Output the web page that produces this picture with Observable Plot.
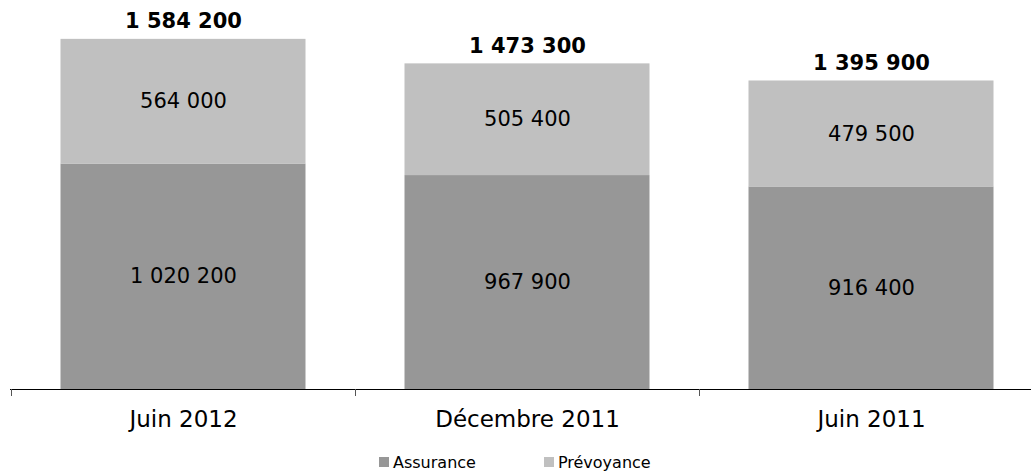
<!DOCTYPE html>
<html>
<head>
<meta charset="utf-8">
<script src="https://cdn.jsdelivr.net/npm/d3@7"></script>
<script src="https://cdn.jsdelivr.net/npm/@observablehq/plot@0.6"></script>
<style>
  html, body { margin: 0; padding: 0; background: #fff; overflow: hidden; }
  #chart svg { display: block; }
  #legend { display: flex; align-items: center; padding-left: 379px; padding-top: 12px; height: 20px;
            font-family: Verdana, "DejaVu Sans", sans-serif; font-size: 16px; color: #000; }
  .item { display: flex; align-items: center; margin-right: 68px; }
  .sw { width: 10px; height: 10px; margin-right: 4px; }
</style>
</head>
<body>
<div id="chart"></div>
<div id="legend"></div>
<script>
const categories = ["Juin 2012", "Décembre 2011", "Juin 2011"];
const seriesNames = ["Assurance", "Prévoyance"];
const assurance = [1020200, 967900, 916400];
const prevoyance = [564000, 505400, 479500];
const totals = [1584200, 1473300, 1395900];
const colors = ["#979797", "#c0c0c0"];

const fmt = d3.formatLocale({thousands: " ", grouping: [3], decimal: ","}).format(",d");

const data = [];
categories.forEach((c, i) => {
  data.push({cat: c, series: seriesNames[0], value: assurance[i]});
  data.push({cat: c, series: seriesNames[1], value: prevoyance[i]});
});
const totalData = categories.map((c, i) => ({cat: c, total: totals[i]}));

const font = 'Verdana, "DejaVu Sans", sans-serif';

const plot = Plot.plot({
  width: 1031,
  height: 440,
  marginLeft: 10,
  marginRight: 0,
  marginTop: 0,
  marginBottom: 51,
  style: {fontFamily: font, fontSize: "21px", color: "#000", background: "#fff"},
  x: {domain: categories, range: [10, 1043], padding: 0, label: null},
  y: {domain: [0, 1760000], range: [389, 0], axis: null},
  color: {domain: seriesNames, range: colors},
  marks: [
    Plot.barY(data, {x: "cat", y: "value", fill: "series", insetLeft: 49.5, insetRight: 49.5, order: seriesNames}),
    Plot.text(data, Plot.stackY({x: "cat", y: "value", z: "series", order: seriesNames, text: d => fmt(d.value), fontSize: 21, fill: "#000"})),
    Plot.text(totalData, {x: "cat", y: "total", text: d => fmt(d.total), dy: -18, fontSize: 21, fontWeight: "bold", fill: "#000"}),
    Plot.ruleY([0], {stroke: "#000", strokeWidth: 1}),
    Plot.axisX({tickSize: 0, tickPadding: 21, fontSize: 23, label: null, fill: "#000"})
  ]
});

// category boundary ticks
const xs = plot.scale("x");
const svg = d3.select(plot);
const bounds = categories.map(c => xs.apply(c));
svg.append("g").selectAll("line").data(bounds).join("line")
  .attr("x1", d => Math.round(d) + 0.5).attr("x2", d => Math.round(d) + 0.5)
  .attr("y1", 389).attr("y2", 396)
  .attr("stroke", "#555").attr("stroke-width", 1);

document.getElementById("chart").appendChild(plot);

const legend = d3.select("#legend");
seriesNames.forEach((s, i) => {
  const it = legend.append("div").attr("class", "item");
  it.append("div").attr("class", "sw").style("background", colors[i]);
  it.append("span").text(s);
});
</script>
</body>
</html>
